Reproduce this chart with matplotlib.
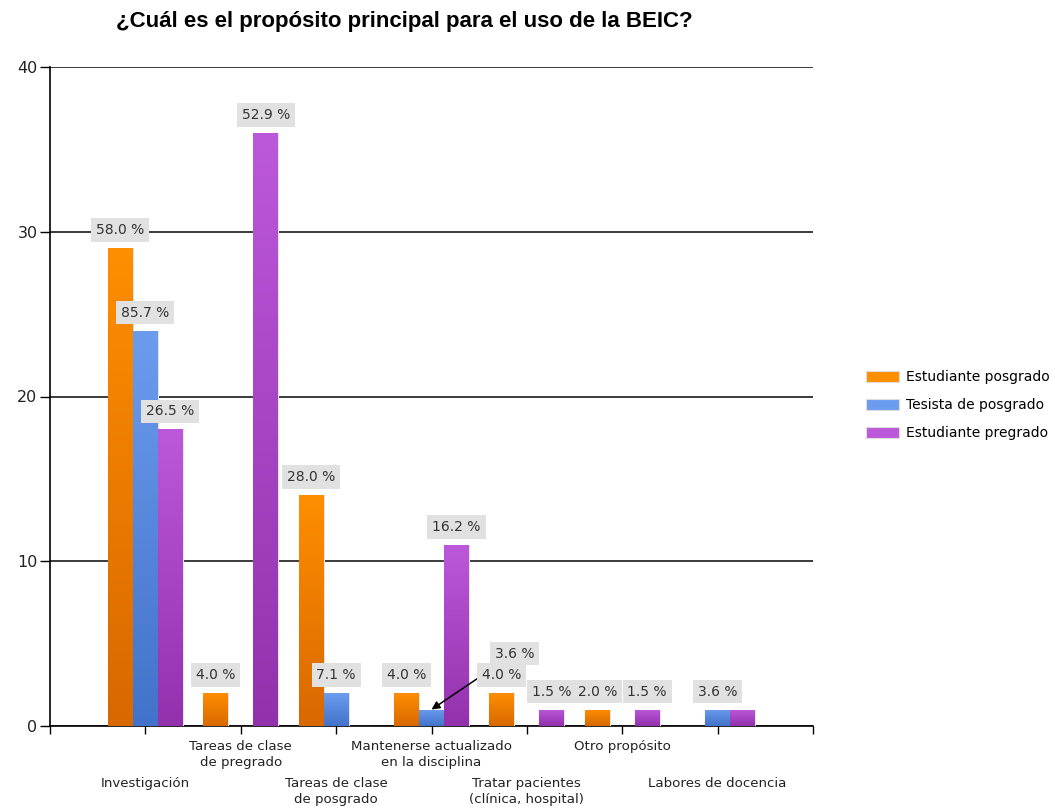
import numpy as np
import matplotlib.pyplot as plt
import matplotlib.colors as mcolors
from matplotlib.patches import Rectangle

# data
categorias = ['Investigación', 'Tareas de clase\nde pregrado', 'Tareas de clase\nde posgrado',
              'Mantenerse actualizado\nen la disciplina', 'Tratar pacientes\n(clínica, hospital)',
              'Otro propósito', 'Labores de docencia']
series = ['Estudiante posgrado', 'Tesista de posgrado', 'Estudiante pregrado']
est_posgrado = [29, 2, 14, 2, 2, 1, 0]
tesista_posgrado = [24, 0, 2, 1, 0, 0, 1]
est_pregrado = [18, 36, 0, 11, 1, 1, 1]
valores = [est_posgrado, tesista_posgrado, est_pregrado]

# (top colour, bottom colour) of each series gradient
colores = [('#FF8E00', '#D86800'), ('#6B9CEE', '#4372CA'), ('#BC58DA', '#9331AD')]

# labels that the original chart hides or moves
ocultos = {(2, 6)}
movidos = {(1, 3): (83, 56)}

plt.rcParams['font.family'] = 'DejaVu Sans'
fig = plt.figure(figsize=(10.55, 8.09), dpi=100)
ax = fig.add_axes([50 / 1055, 83 / 809, 763 / 1055, 659 / 809])

x = np.arange(1, len(categorias) + 1)
ancho = 0.262
grad = np.linspace(0, 1, 256).reshape(-1, 1)

for s, vals in enumerate(valores):
    cmap = mcolors.LinearSegmentedColormap.from_list('g', [colores[s][1], colores[s][0]])
    total = sum(vals)
    pos = x + (s - 1) * ancho
    bars = ax.bar(pos, vals, width=ancho, color=colores[s][0], edgecolor='#e4e4e4',
                  linewidth=0.8, zorder=3)
    for i, b in enumerate(bars):
        h = vals[i]
        if h == 0:
            continue
        x0 = b.get_x()
        # vertical gradient clipped to the bar
        im = ax.imshow(grad, extent=[x0, x0 + ancho, 0, h], cmap=cmap,
                       vmin=0, vmax=1, aspect='auto', origin='lower', zorder=3.1)
        im.set_clip_path(b)
        if (s, i) in ocultos:
            continue
        etiqueta = f'{100 * h / total:.1f} %'
        caja = dict(boxstyle='square,pad=0.35', fc='#e1e1e1', ec='none')
        if (s, i) in movidos:
            dx, dy = movidos[(s, i)]
            ax.annotate(etiqueta, xy=(pos[i], h), xytext=(dx, dy), textcoords='offset pixels',
                        ha='center', va='center', fontsize=10, color='#333333', bbox=caja,
                        arrowprops=dict(arrowstyle='-|>', color='black', lw=1.1,
                                        mutation_scale=12, shrinkA=0, shrinkB=0),
                        zorder=4)
        else:
            ax.annotate(etiqueta, xy=(pos[i], h), xytext=(0, 18), textcoords='offset pixels',
                        ha='center', va='center', fontsize=10, color='#333333', bbox=caja,
                        zorder=5 + s)

ax.set_xlim(0, 8)
ax.set_ylim(0, 40)
ax.set_yticks([0, 10, 20, 30, 40])
ax.set_xticks(np.arange(0, 9))
ax.set_xticklabels([])
ax.tick_params(axis='y', length=7, width=1, labelsize=11.5, labelcolor='#222222', pad=2)
ax.tick_params(axis='x', length=6, width=1)
ax.grid(axis='y', color='#1a1a1a', linewidth=1.2, zorder=1)
ax.set_axisbelow(True)
for lado in ['top', 'right']:
    ax.spines[lado].set_visible(False)
ax.spines['left'].set_linewidth(1.2)
ax.spines['bottom'].set_linewidth(1.2)

# staggered category labels
for i, cat in enumerate(categorias):
    y_px = 14 if i % 2 == 1 else 51
    ax.annotate(cat, xy=(x[i], 0), xycoords=('data', 'axes fraction'),
                xytext=(0, -y_px), textcoords='offset pixels', ha='center', va='top',
                fontsize=9.6, color='#222222', linespacing=1.3)

# legend
handles = []
for s in range(3):
    handles.append(Rectangle((0, 0), 1, 1, fc=colores[s][0], ec='#dddddd', lw=0.8))
fig.legend(handles, series, loc='center left', bbox_to_anchor=(853 / 1055, 1 - 405 / 809),
           frameon=False, fontsize=10, handlelength=2.4, handleheight=0.85,
           labelspacing=1.0, handletextpad=0.55)

fig.text(404 / 1055, 1 - 21 / 809, '¿Cuál es el propósito principal para el uso de la BEIC?',
         ha='center', va='center', fontsize=16, fontweight='bold', family='Liberation Sans')

fig.savefig('out.png', dpi=100)
